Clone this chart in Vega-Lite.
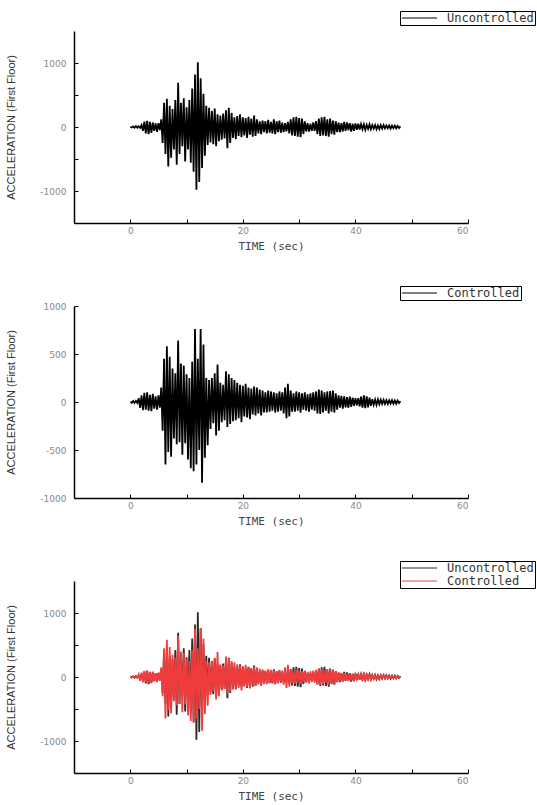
{
  "$schema": "https://vega.github.io/schema/vega-lite/v6.json",
  "background": "white",
  "padding": {"left": 5, "top": 10, "right": 0, "bottom": 5},
  "datasets": {
    "U": [
      {"t":0,"a":0},{"t":0.25,"a":-8},{"t":0.5,"a":10},{"t":0.75,"a":-12},{"t":1,"a":14},{"t":1.25,"a":-10},{"t":1.5,"a":12},{"t":1.75,"a":-15},
      {"t":2,"a":30},{"t":2.25,"a":-60},{"t":2.5,"a":85},{"t":2.75,"a":-100},{"t":3,"a":95},{"t":3.25,"a":-110},{"t":3.5,"a":80},{"t":3.75,"a":-90},
      {"t":4,"a":70},{"t":4.25,"a":-60},{"t":4.5,"a":55},{"t":4.75,"a":-75},{"t":5,"a":60},{"t":5.25,"a":-50},{"t":5.5,"a":120},{"t":5.75,"a":-250},
      {"t":6,"a":380},{"t":6.25,"a":-420},{"t":6.5,"a":440},{"t":6.75,"a":-615},{"t":7,"a":330},{"t":7.25,"a":-480},{"t":7.5,"a":280},{"t":7.75,"a":-350},
      {"t":8,"a":420},{"t":8.25,"a":-590},{"t":8.5,"a":690},{"t":8.75,"a":-420},{"t":9,"a":380},{"t":9.25,"a":-300},{"t":9.5,"a":450},{"t":9.75,"a":-540},
      {"t":10,"a":310},{"t":10.25,"a":-350},{"t":10.5,"a":420},{"t":10.75,"a":-560},{"t":11,"a":600},{"t":11.25,"a":-700},{"t":11.5,"a":820},{"t":11.75,"a":-980},
      {"t":12,"a":1010},{"t":12.25,"a":-860},{"t":12.5,"a":760},{"t":12.75,"a":-640},{"t":13,"a":520},{"t":13.25,"a":-450},{"t":13.5,"a":330},{"t":13.75,"a":-280},
      {"t":14,"a":300},{"t":14.25,"a":-240},{"t":14.5,"a":250},{"t":14.75,"a":-270},{"t":15,"a":290},{"t":15.25,"a":-300},{"t":15.5,"a":200},{"t":15.75,"a":-220},
      {"t":16,"a":180},{"t":16.25,"a":-200},{"t":16.5,"a":210},{"t":16.75,"a":-180},{"t":17,"a":260},{"t":17.25,"a":-330},{"t":17.5,"a":300},{"t":17.75,"a":-250},
      {"t":18,"a":220},{"t":18.25,"a":-170},{"t":18.5,"a":150},{"t":18.75,"a":-190},{"t":19,"a":170},{"t":19.25,"a":-140},{"t":19.5,"a":200},{"t":19.75,"a":-160},
      {"t":20,"a":150},{"t":20.25,"a":-130},{"t":20.5,"a":140},{"t":20.75,"a":-170},{"t":21,"a":160},{"t":21.25,"a":-120},{"t":21.5,"a":130},{"t":21.75,"a":-150},
      {"t":22,"a":180},{"t":22.25,"a":-140},{"t":22.5,"a":120},{"t":22.75,"a":-100},{"t":23,"a":90},{"t":23.25,"a":-110},{"t":23.5,"a":100},{"t":23.75,"a":-80},
      {"t":24,"a":90},{"t":24.25,"a":-100},{"t":24.5,"a":110},{"t":24.75,"a":-90},{"t":25,"a":80},{"t":25.25,"a":-100},{"t":25.5,"a":120},{"t":25.75,"a":-110},
      {"t":26,"a":90},{"t":26.25,"a":-80},{"t":26.5,"a":100},{"t":26.75,"a":-90},{"t":27,"a":70},{"t":27.25,"a":-80},{"t":27.5,"a":60},{"t":27.75,"a":-70},
      {"t":28,"a":80},{"t":28.25,"a":-100},{"t":28.5,"a":120},{"t":28.75,"a":-130},{"t":29,"a":150},{"t":29.25,"a":-140},{"t":29.5,"a":160},{"t":29.75,"a":-150},
      {"t":30,"a":140},{"t":30.25,"a":-160},{"t":30.5,"a":130},{"t":30.75,"a":-110},{"t":31,"a":90},{"t":31.25,"a":-70},{"t":31.5,"a":60},{"t":31.75,"a":-70},
      {"t":32,"a":50},{"t":32.25,"a":-60},{"t":32.5,"a":70},{"t":32.75,"a":-60},{"t":33,"a":90},{"t":33.25,"a":-110},{"t":33.5,"a":130},{"t":33.75,"a":-140},
      {"t":34,"a":150},{"t":34.25,"a":-130},{"t":34.5,"a":160},{"t":34.75,"a":-140},{"t":35,"a":120},{"t":35.25,"a":-150},{"t":35.5,"a":130},{"t":35.75,"a":-110},
      {"t":36,"a":100},{"t":36.25,"a":-120},{"t":36.5,"a":90},{"t":36.75,"a":-80},{"t":37,"a":70},{"t":37.25,"a":-80},{"t":37.5,"a":60},{"t":37.75,"a":-70},
      {"t":38,"a":80},{"t":38.25,"a":-60},{"t":38.5,"a":70},{"t":38.75,"a":-50},{"t":39,"a":60},{"t":39.25,"a":-70},{"t":39.5,"a":50},{"t":39.75,"a":-60},
      {"t":40,"a":55},{"t":40.25,"a":-45},{"t":40.5,"a":50},{"t":40.75,"a":-40},{"t":41,"a":45},{"t":41.25,"a":-35},{"t":41.5,"a":40},{"t":41.75,"a":-45},
      {"t":42,"a":35},{"t":42.25,"a":-30},{"t":42.5,"a":40},{"t":42.75,"a":-35},{"t":43,"a":30},{"t":43.25,"a":-25},{"t":43.5,"a":30},{"t":43.75,"a":-35},
      {"t":44,"a":25},{"t":44.25,"a":-30},{"t":44.5,"a":28},{"t":44.75,"a":-25},{"t":45,"a":30},{"t":45.25,"a":-22},{"t":45.5,"a":25},{"t":45.75,"a":-20},
      {"t":46,"a":22},{"t":46.25,"a":-25},{"t":46.5,"a":20},{"t":46.75,"a":-18},{"t":47,"a":22},{"t":47.25,"a":-20},{"t":47.5,"a":18},{"t":47.75,"a":-15},
      {"t":48,"a":10}
    ],
    "C": [
      {"t":0,"a":0},{"t":0.25,"a":-8},{"t":0.5,"a":10},{"t":0.75,"a":-10},{"t":1,"a":12},{"t":1.25,"a":-10},{"t":1.5,"a":40},{"t":1.75,"a":-60},
      {"t":2,"a":70},{"t":2.25,"a":-85},{"t":2.5,"a":95},{"t":2.75,"a":-80},{"t":3,"a":100},{"t":3.25,"a":-90},{"t":3.5,"a":75},{"t":3.75,"a":-95},
      {"t":4,"a":85},{"t":4.25,"a":-70},{"t":4.5,"a":60},{"t":4.75,"a":-80},{"t":5,"a":70},{"t":5.25,"a":-60},{"t":5.5,"a":150},{"t":5.75,"a":-300},
      {"t":6,"a":450},{"t":6.25,"a":-650},{"t":6.5,"a":580},{"t":6.75,"a":-520},{"t":7,"a":470},{"t":7.25,"a":-570},{"t":7.5,"a":350},{"t":7.75,"a":-380},
      {"t":8,"a":300},{"t":8.25,"a":-440},{"t":8.5,"a":640},{"t":8.75,"a":-420},{"t":9,"a":400},{"t":9.25,"a":-550},{"t":9.5,"a":380},{"t":9.75,"a":-430},
      {"t":10,"a":290},{"t":10.25,"a":-600},{"t":10.5,"a":250},{"t":10.75,"a":-690},{"t":11,"a":420},{"t":11.25,"a":-720},{"t":11.5,"a":760},{"t":11.75,"a":-650},
      {"t":12,"a":450},{"t":12.25,"a":-500},{"t":12.5,"a":760},{"t":12.75,"a":-840},{"t":13,"a":600},{"t":13.25,"a":-580},{"t":13.5,"a":250},{"t":13.75,"a":-450},
      {"t":14,"a":230},{"t":14.25,"a":-280},{"t":14.5,"a":250},{"t":14.75,"a":-220},{"t":15,"a":300},{"t":15.25,"a":-350},{"t":15.5,"a":390},{"t":15.75,"a":-300},
      {"t":16,"a":200},{"t":16.25,"a":-210},{"t":16.5,"a":180},{"t":16.75,"a":-190},{"t":17,"a":320},{"t":17.25,"a":-260},{"t":17.5,"a":290},{"t":17.75,"a":-230},
      {"t":18,"a":250},{"t":18.25,"a":-200},{"t":18.5,"a":230},{"t":18.75,"a":-190},{"t":19,"a":200},{"t":19.25,"a":-170},{"t":19.5,"a":180},{"t":19.75,"a":-210},
      {"t":20,"a":170},{"t":20.25,"a":-150},{"t":20.5,"a":190},{"t":20.75,"a":-160},{"t":21,"a":150},{"t":21.25,"a":-180},{"t":21.5,"a":140},{"t":21.75,"a":-130},
      {"t":22,"a":160},{"t":22.25,"a":-140},{"t":22.5,"a":150},{"t":22.75,"a":-120},{"t":23,"a":130},{"t":23.25,"a":-140},{"t":23.5,"a":120},{"t":23.75,"a":-110},
      {"t":24,"a":100},{"t":24.25,"a":-110},{"t":24.5,"a":120},{"t":24.75,"a":-100},{"t":25,"a":110},{"t":25.25,"a":-90},{"t":25.5,"a":100},{"t":25.75,"a":-110},
      {"t":26,"a":90},{"t":26.25,"a":-100},{"t":26.5,"a":110},{"t":26.75,"a":-90},{"t":27,"a":100},{"t":27.25,"a":-120},{"t":27.5,"a":150},{"t":27.75,"a":-170},
      {"t":28,"a":190},{"t":28.25,"a":-150},{"t":28.5,"a":120},{"t":28.75,"a":-100},{"t":29,"a":90},{"t":29.25,"a":-100},{"t":29.5,"a":110},{"t":29.75,"a":-90},
      {"t":30,"a":100},{"t":30.25,"a":-110},{"t":30.5,"a":90},{"t":30.75,"a":-80},{"t":31,"a":100},{"t":31.25,"a":-90},{"t":31.5,"a":80},{"t":31.75,"a":-100},
      {"t":32,"a":90},{"t":32.25,"a":-80},{"t":32.5,"a":100},{"t":32.75,"a":-90},{"t":33,"a":110},{"t":33.25,"a":-120},{"t":33.5,"a":130},{"t":33.75,"a":-125},
      {"t":34,"a":120},{"t":34.25,"a":-110},{"t":34.5,"a":100},{"t":34.75,"a":-90},{"t":35,"a":110},{"t":35.25,"a":-120},{"t":35.5,"a":115},{"t":35.75,"a":-100},
      {"t":36,"a":120},{"t":36.25,"a":-110},{"t":36.5,"a":90},{"t":36.75,"a":-80},{"t":37,"a":70},{"t":37.25,"a":-60},{"t":37.5,"a":65},{"t":37.75,"a":-70},
      {"t":38,"a":60},{"t":38.25,"a":-55},{"t":38.5,"a":50},{"t":38.75,"a":-60},{"t":39,"a":55},{"t":39.25,"a":-50},{"t":39.5,"a":45},{"t":39.75,"a":-40},
      {"t":40,"a":40},{"t":40.25,"a":-35},{"t":40.5,"a":40},{"t":40.75,"a":-45},{"t":41,"a":55},{"t":41.25,"a":-60},{"t":41.5,"a":70},{"t":41.75,"a":-65},
      {"t":42,"a":60},{"t":42.25,"a":-55},{"t":42.5,"a":45},{"t":42.75,"a":-40},{"t":43,"a":30},{"t":43.25,"a":-28},{"t":43.5,"a":25},{"t":43.75,"a":-30},
      {"t":44,"a":25},{"t":44.25,"a":-22},{"t":44.5,"a":25},{"t":44.75,"a":-20},{"t":45,"a":22},{"t":45.25,"a":-20},{"t":45.5,"a":18},{"t":45.75,"a":-20},
      {"t":46,"a":18},{"t":46.25,"a":-15},{"t":46.5,"a":20},{"t":46.75,"a":-18},{"t":47,"a":15},{"t":47.25,"a":-18},{"t":47.5,"a":15},{"t":47.75,"a":-12},
      {"t":48,"a":8}
    ]
  },
  "config": {
    "view": {"stroke": null},
    "axis": {
      "grid": false,
      "domainColor": "#000",
      "domainWidth": 1.5,
      "tickColor": "#000",
      "tickSize": -4,
      "tickWidth": 1,
      "labelFont": "DejaVu Sans",
      "labelFontSize": 9,
      "labelColor": "#888",
      "titleFontWeight": "normal"
    },
    "axisX": {
      "labelPadding": 7,
      "titleFont": "DejaVu Sans Mono",
      "titleFontSize": 11,
      "titleColor": "#444",
      "titlePadding": 5
    },
    "axisY": {
      "labelPadding": 12,
      "titleFont": "Liberation Sans Narrow, Liberation Sans",
      "titleFontSize": 11,
      "titleColor": "#333",
      "titlePadding": 23
    },
    "legend": {
      "orient": "none",
      "legendX": 326,
      "legendY": -20,
      "strokeColor": "#000",
      "fillColor": "#fff",
      "padding": 1,
      "cornerRadius": 0,
      "symbolType": "M-1,0H6",
      "symbolSize": 100,
      "symbolStrokeWidth": 1,
      "symbolFillColor": "transparent",
      "labelFont": "DejaVu Sans Mono",
      "labelFontSize": 12,
      "labelColor": "#333",
      "labelOffset": 34,
      "rowPadding": 1
    }
  },
  "bounds": "flush",
  "spacing": 83,
  "resolve": {"scale": {"color": "independent"}, "legend": {"color": "independent"}},
  "vconcat": [
    {
      "width": 394,
      "height": 192,
      "data": {"name": "U"},
      "mark": {"type": "line", "strokeWidth": 1.8},
      "encoding": {
        "x": {"field": "t", "type": "quantitative", "scale": {"domain": [-10, 60], "nice": false, "zero": false},
              "axis": {"title": "TIME (sec)", "values": [0, 10, 20, 30, 40, 50, 60], "labelExpr": "datum.value % 20 == 0 ? '' + datum.value : ''"}},
        "y": {"field": "a", "type": "quantitative", "scale": {"domain": [-1500, 1500], "nice": false},
              "axis": {"title": "ACCELERATION (First Floor)", "values": [-1000, -500, 0, 500, 1000], "labelExpr": "datum.value % 1000 == 0 ? '' + datum.value : ''"}},
        "color": {"datum": "Uncontrolled", "type": "nominal", "scale": {"domain": ["Uncontrolled"], "range": ["#000000"]},
                  "legend": {"title": null, "symbolStrokeWidth": 1, "symbolStrokeColor": "#777"}}
      }
    },
    {
      "width": 394,
      "height": 192,
      "data": {"name": "C"},
      "mark": {"type": "line", "strokeWidth": 1.8},
      "encoding": {
        "x": {"field": "t", "type": "quantitative", "scale": {"domain": [-10, 60], "nice": false, "zero": false},
              "axis": {"title": "TIME (sec)", "values": [0, 10, 20, 30, 40, 50, 60], "labelExpr": "datum.value % 20 == 0 ? '' + datum.value : ''"}},
        "y": {"field": "a", "type": "quantitative", "scale": {"domain": [-1000, 1000], "nice": false},
              "axis": {"title": "ACCELERATION (First Floor)", "values": [-1000, -500, 0, 500, 1000], "labelExpr": "'' + datum.value"}},
        "color": {"datum": "Controlled", "type": "nominal", "scale": {"domain": ["Controlled"], "range": ["#000000"]},
                  "legend": {"title": null, "symbolStrokeWidth": 1}}
      }
    },
    {
      "width": 394,
      "height": 192,
      "encoding": {
        "x": {"field": "t", "type": "quantitative", "scale": {"domain": [-10, 60], "nice": false, "zero": false},
              "axis": {"title": "TIME (sec)", "values": [0, 10, 20, 30, 40, 50, 60], "labelExpr": "datum.value % 20 == 0 ? '' + datum.value : ''"}},
        "y": {"field": "a", "type": "quantitative", "scale": {"domain": [-1500, 1500], "nice": false},
              "axis": {"title": "ACCELERATION (First Floor)", "values": [-1000, -500, 0, 500, 1000], "labelExpr": "datum.value % 1000 == 0 ? '' + datum.value : ''"}}
      },
      "layer": [
        {
          "data": {"name": "U"},
          "mark": {"type": "line", "strokeWidth": 1.8},
          "encoding": {
            "color": {"datum": "Uncontrolled", "type": "nominal", "scale": {"domain": ["Uncontrolled", "Controlled"], "range": ["#2a2a2a", "#f03c3c"]},
                      "legend": {"title": null, "symbolStrokeWidth": 1}}
          }
        },
        {
          "data": {"name": "C"},
          "mark": {"type": "line", "strokeWidth": 1.8},
          "encoding": {
            "color": {"datum": "Controlled", "type": "nominal"}
          }
        }
      ]
    }
  ]
}
